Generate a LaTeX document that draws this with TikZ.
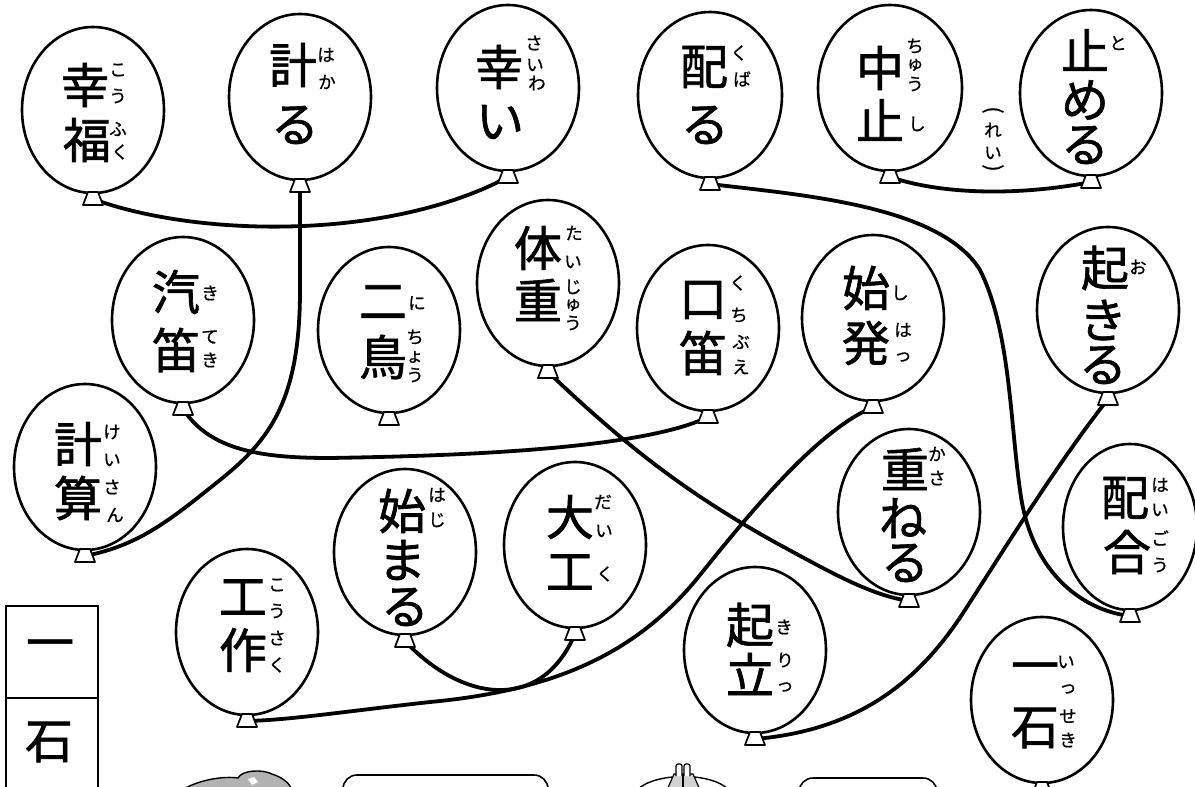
\documentclass[tikz,border=0pt]{standalone}
\usepackage{fontspec}
\newfontfamily\jp[FakeBold=1.3]{Noto Sans CJK JP}
\newfontfamily\jpf[FakeBold=0.8]{Noto Sans CJK JP}
\usetikzlibrary{shapes.geometric}
\pgfdeclarelayer{bg}
\pgfsetlayers{bg,main}
\newcounter{chn}
\newcommand\kj[3]{\stepcounter{chn}\node[kj] (c\thechn) at (#1,#2) {#3};}
\newcommand\fg[3]{\stepcounter{chn}\node[fg] (c\thechn) at (#1,#2) {#3};}
\newcommand\balloon[4]{%
  \node[bal, minimum width=#4pt] (#1) at (#2,#3) {};
  \draw[knot] ([xshift=-5pt,yshift=1pt]#1.south) -- ([xshift=-10pt,yshift=-12pt]#1.south) -- ([xshift=10pt,yshift=-12pt]#1.south) -- ([xshift=5pt,yshift=1pt]#1.south) -- cycle;
  \coordinate (#1k) at ([yshift=-6pt]#1.south);
}
\tikzset{
  kj/.style={font=\jp\fontsize{48}{48}\selectfont, inner sep=0pt},
  fg/.style={font=\jpf\fontsize{17.5}{17.5}\selectfont, inner sep=0pt},
  bal/.style={ellipse, draw, line width=2.6pt, fill=white, minimum height=166pt, inner sep=0pt, outer sep=0pt},
  knot/.style={draw, line width=1.7pt, fill=white, line join=round},
  wire/.style={line width=3.8pt, line cap=round},
  thin box/.style={draw, line width=1.6pt},
  blob/.style={draw, line width=1.4pt, fill=gray!60},
}
\begin{document}
\begin{tikzpicture}[x=1pt,y=-1pt]
\useasboundingbox (0,0) rectangle (1195,787);
\clip (0,0) rectangle (1195,787);

% balloons
\balloon{b1}{93}{110}{142}
\balloon{b2}{300}{97}{142}
\balloon{b3}{508}{88}{142}
\balloon{b4}{710}{95}{144}
\balloon{b5}{890}{88}{144}
\balloon{b6}{1091}{93}{142}
\balloon{b7}{183}{320}{142}
\balloon{b8}{85}{467}{142}
\balloon{b9}{389}{330}{142}
\balloon{b10}{548}{283}{142}
\balloon{b11}{708}{328}{142}
\balloon{b12}{873}{318}{142}
\balloon{b13}{1108}{310}{142}
\balloon{b14}{909}{512}{142}
\balloon{b15}{1130}{527}{134}
\balloon{b16}{1042}{700}{142}
\balloon{b17}{755}{650}{142}
\balloon{b18}{575}{545}{142}
\balloon{b19}{405}{552}{142}
\balloon{b20}{247}{632}{142}

% connectors
\begin{pgfonlayer}{bg}
\fill[white] (0,0) rectangle (1195,787);
\draw[wire] (b1k) .. controls (200,238) and (390,240) .. (b3k);
\draw[wire] (b2k) -- (300,290) .. controls (300,400) and (270,440) .. (220,480) .. controls (170,520) and (140,545) .. (b8k);
\draw[wire] (b4k) .. controls (800,195) and (940,205) .. (980,270) .. controls (1010,330) and (1010,420) .. (1020,490) .. controls (1030,570) and (1080,610) .. (b15k);
\draw[wire] (b5k) .. controls (950,197) and (1030,194) .. (b6k);
\draw[wire] (b7k) .. controls (210,450) and (260,458) .. (330,458) .. controls (450,456) and (640,450) .. (b11k);
\draw[wire] (b10k) .. controls (620,440) and (680,490) .. (780,545) .. controls (830,572) and (870,595) .. (b14k);
\draw[wire] (b12k) .. controls (820,430) and (760,500) .. (700,575) .. controls (640,650) and (560,690) .. (430,702) .. controls (340,712) and (290,720) .. (b20k);
\draw[wire] (b13k) .. controls (1060,460) and (1010,540) .. (965,610) .. controls (920,680) and (860,730) .. (b17k);
\draw[wire] (b19k) .. controls (460,700) and (540,715) .. (b18k);
\end{pgfonlayer}

% texts
\kj{85}{85}{幸}\kj{87}{140}{福}
\fg{118}{70}{こ}\fg{118}{96}{う}\fg{118}{129}{ふ}\fg{120}{152}{く}

\kj{293}{65}{計}\kj{295}{125}{る}
\fg{326}{55}{は}\fg{327}{82}{か}

\kj{499}{67}{幸}\kj{500}{122}{い}
\fg{534}{43}{さ}\fg{535}{65}{い}\fg{537}{83}{わ}

\kj{704}{67}{配}\kj{705}{125}{る}
\fg{739}{53}{く}\fg{742}{79}{ば}

\kj{880}{68}{中}\kj{880}{120}{止}
\fg{915}{46}{ち}\fg{915}{65}{ゅ}\fg{915}{84}{う}\fg{917}{124}{し}

\kj{1085}{50}{止}\kj{1085}{100}{め}\kj{1085}{145}{る}
\fg{1118}{43}{と}

\node[fg, font=\jpf\fontsize{21}{21}\selectfont, rotate=-90] (p1) at (993,110) {(};
\fg{993}{130}{れ}\fg{993}{153}{い}
\node[fg, font=\jpf\fontsize{21}{21}\selectfont, rotate=-90] (p2) at (993,168) {)};

\kj{176}{292}{汽}\kj{176}{350}{笛}
\fg{210}{293}{き}\fg{210}{337}{て}\fg{210}{360}{き}

\kj{78}{444}{計}\kj{78}{498}{算}
\fg{112}{432}{け}\fg{112}{460}{い}\fg{112}{487}{さ}\fg{115}{515}{ん}

\kj{383}{302}{二}\kj{383}{357}{鳥}
\fg{417}{303}{に}\fg{415}{337}{ち}\fg{415}{357}{ょ}\fg{415}{375}{う}

\kj{538}{248}{体}\kj{538}{300}{重}
\fg{574}{233}{た}\fg{573}{262}{い}\fg{573}{287}{じ}\fg{573}{305}{ゅ}\fg{573}{323}{う}

\kj{703}{300}{口}\kj{703}{353}{笛}
\fg{738}{283}{く}\fg{739}{315}{ち}\fg{741}{342}{ぶ}\fg{741}{367}{え}

\kj{866}{288}{始}\kj{866}{343}{発}
\fg{900}{293}{し}\fg{903}{330}{は}\fg{903}{357}{っ}

\kj{1105}{268}{起}\kj{1103}{320}{き}\kj{1103}{365}{る}
\fg{1138}{267}{お}

\kj{905}{469}{重}\kj{903}{518}{ね}\kj{905}{563}{る}
\fg{937}{454}{か}\fg{937}{478}{さ}

\kj{1125}{498}{配}\kj{1127}{552}{合}
\fg{1160}{485}{は}\fg{1160}{510}{い}\fg{1160}{538}{ご}\fg{1160}{565}{う}

\kj{1035}{673}{一}\kj{1035}{728}{石}
\fg{1066}{662}{い}\fg{1068}{689}{っ}\fg{1068}{716}{せ}\fg{1068}{740}{き}

\kj{750}{625}{起}\kj{750}{674}{立}
\fg{784}{627}{き}\fg{785}{660}{り}\fg{785}{687}{っ}

\kj{570}{517}{大}\kj{570}{572}{工}
\fg{603}{502}{だ}\fg{604}{531}{い}\fg{605}{574}{く}

\kj{402}{511}{始}\kj{402}{560}{ま}\kj{405}{607}{る}
\fg{437}{495}{は}\fg{437}{520}{じ}

\kj{243}{597}{工}\kj{243}{650}{作}
\fg{277}{585}{こ}\fg{277}{611}{う}\fg{277}{638}{さ}\fg{277}{665}{く}

% left answer box
\node[thin box, minimum width=92pt, minimum height=92pt, inner sep=0pt, anchor=north west] (box1) at (5,605) {};
\node[thin box, minimum width=92pt, minimum height=120pt, inner sep=0pt, anchor=north west] (box2) at (5,697) {};
\kj{50}{650}{一}\kj{49}{742}{石}

% partial decorations at the bottom edge
\draw[blob] (182,790) .. controls (200,779) and (225,776) .. (238,778) .. controls (242,770) and (262,769) .. (272,774) .. controls (284,778) and (290,784) .. (292,790) -- cycle;
\fill[white] (248,779) -- (254,777) -- (258,782) -- (252,785) -- cycle;
\draw[line width=1.6pt, rounded corners=14pt] (343,800) -- (343,775) -- (548,775) -- (548,800);
\draw[line width=1.4pt] (637,790) .. controls (655,772) and (712,772) .. (729,790);
\draw[line width=1.2pt, fill=gray!35] (667,790) -- (674,774) -- (693,774) -- (700,790) -- cycle;
\draw[line width=1.2pt] (683,774) -- (683,790);
\draw[line width=1.2pt, fill=white, rounded corners=2pt] (676,776) -- (676,764) -- (682,764) -- (682,776);
\draw[line width=1.2pt, fill=white, rounded corners=2pt] (684,776) -- (684,764) -- (690,764) -- (690,776);
\draw[line width=1.6pt, rounded corners=14pt] (799,800) -- (799,778) -- (937,778) -- (937,800);
\end{tikzpicture}
\end{document}
